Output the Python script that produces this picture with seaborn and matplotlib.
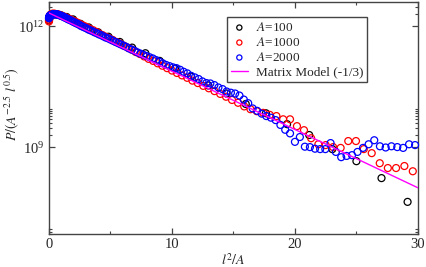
import matplotlib
matplotlib.use('Agg')
import numpy as np
import pandas as pd
import matplotlib.pyplot as plt
import matplotlib.ticker as mticker
import seaborn as sns

# x = l^2/A, y stored as log10 of P/(A^-2.5 l^0.5)

# A = 100
x_a100 = [0, 0.04, 0.16, 0.36, 0.64, 1.0, 1.44, 1.96, 2.56, 3.24, 4.0, 4.84, 5.76, 6.76,
          7.84, 9.0, 10.24, 11.56, 12.96, 14.44, 16.0, 17.64, 19.36, 21.16, 23.04, 25.0,
          27.04, 29.16]
logp_a100 = [12.15, 12.20, 12.26, 12.29, 12.29, 12.27, 12.23, 12.17, 12.06, 11.97, 11.85,
             11.74, 11.61, 11.47, 11.33, 11.14, 10.95, 10.75, 10.53, 10.33, 10.07, 9.84,
             9.57, 9.30, 8.95, 8.65, 8.23, 7.64]

# A = 1000
x_a1000 = [0, 0.004, 0.016, 0.036, 0.064, 0.1, 0.144, 0.196, 0.256, 0.324, 0.4, 0.484,
           0.576, 0.676, 0.784, 0.9, 1.024, 1.156, 1.296, 1.444, 1.6, 1.764, 1.936, 2.116,
           2.304, 2.5, 2.704, 2.916, 3.136, 3.364, 3.6, 3.844, 4.096, 4.356, 4.624, 4.9,
           5.184, 5.476, 5.776, 6.084, 6.4, 6.724, 7.056, 7.396, 7.744, 8.1, 8.464, 8.836,
           9.216, 9.604, 10.0, 10.404, 10.816, 11.236, 11.664, 12.1, 12.544, 12.996,
           13.456, 13.924, 14.4, 14.884, 15.376, 15.876, 16.384, 16.9, 17.424, 17.956,
           18.496, 19.044, 19.6, 20.164, 20.736, 21.316, 21.904, 22.5, 23.104, 23.716,
           24.336, 24.964, 25.6, 26.244, 26.896, 27.556, 28.224, 28.9, 29.584]
logp_a1000 = [12.12, 12.16, 12.20, 12.23, 12.26, 12.28, 12.29, 12.30, 12.31, 12.31, 12.31,
              12.31, 12.30, 12.30, 12.29, 12.28, 12.26, 12.25, 12.23, 12.21, 12.19, 12.17,
              12.14, 12.12, 12.09, 12.06, 12.03, 12.00, 11.97, 11.93, 11.90, 11.86, 11.82,
              11.78, 11.74, 11.70, 11.66, 11.61, 11.57, 11.52, 11.47, 11.42, 11.36, 11.31,
              11.25, 11.19, 11.14, 11.08, 11.02, 10.96, 10.90, 10.84, 10.78, 10.72, 10.65,
              10.59, 10.52, 10.46, 10.39, 10.32, 10.25, 10.17, 10.10, 10.01, 9.94, 9.89,
              9.85, 9.80, 9.77, 9.69, 9.69, 9.52, 9.42, 9.22, 9.07, 9.05, 9.00, 8.98, 9.15,
              9.15, 8.95, 8.85, 8.60, 8.48, 8.48, 8.53, 8.40]

# A = 2000
x_a2000 = [0, 0.002, 0.008, 0.018, 0.032, 0.05, 0.072, 0.098, 0.128, 0.162, 0.2, 0.242,
           0.288, 0.338, 0.392, 0.45, 0.512, 0.578, 0.648, 0.722, 0.8, 0.882, 0.968, 1.058,
           1.152, 1.25, 1.352, 1.458, 1.568, 1.682, 1.8, 1.922, 2.048, 2.178, 2.312, 2.45,
           2.592, 2.738, 2.888, 3.042, 3.2, 3.362, 3.528, 3.698, 3.872, 4.05, 4.232, 4.418,
           4.608, 4.802, 5.0, 5.202, 5.408, 5.618, 5.832, 6.05, 6.272, 6.498, 6.728, 6.962,
           7.2, 7.442, 7.688, 7.938, 8.192, 8.45, 8.712, 8.978, 9.248, 9.522, 9.8, 10.082,
           10.368, 10.658, 10.952, 11.25, 11.552, 11.858, 12.168, 12.482, 12.8, 13.122,
           13.448, 13.778, 14.112, 14.45, 14.792, 15.138, 15.488, 15.842, 16.2, 16.562,
           16.928, 17.298, 17.672, 18.05, 18.432, 18.818, 19.208, 19.602, 20.0, 20.402,
           20.808, 21.218, 21.632, 22.05, 22.472, 22.898, 23.328, 23.762, 24.2, 24.642,
           25.088, 25.538, 25.992, 26.45, 26.912, 27.378, 27.848, 28.322, 28.8, 29.282,
           29.768]
logp_a2000 = [12.20, 12.21, 12.22, 12.23, 12.24, 12.25, 12.26, 12.27, 12.27, 12.28, 12.28,
              12.29, 12.29, 12.30, 12.30, 12.30, 12.30, 12.30, 12.29, 12.29, 12.28, 12.27,
              12.26, 12.25, 12.24, 12.22, 12.21, 12.19, 12.17, 12.16, 12.14, 12.12, 12.10,
              12.08, 12.06, 12.04, 12.01, 11.99, 11.97, 11.95, 11.92, 11.90, 11.88, 11.85,
              11.83, 11.80, 11.78, 11.75, 11.72, 11.70, 11.67, 11.64, 11.61, 11.58, 11.55,
              11.52, 11.49, 11.45, 11.42, 11.39, 11.35, 11.32, 11.29, 11.26, 11.23, 11.20,
              11.16, 11.12, 11.08, 11.04, 11.01, 10.98, 10.96, 10.92, 10.87, 10.83, 10.77,
              10.73, 10.69, 10.63, 10.59, 10.58, 10.54, 10.48, 10.44, 10.38, 10.35, 10.33,
              10.28, 10.18, 10.09, 9.96, 9.90, 9.83, 9.77, 9.73, 9.67, 9.55, 9.43, 9.34,
              9.13, 9.25, 9.01, 9.00, 8.96, 8.95, 8.95, 9.10, 8.88, 8.75, 8.78, 8.80, 8.88,
              8.98, 9.07, 9.17, 9.02, 8.99, 9.02, 9.00, 8.98, 9.07, 9.05]

# matrix model line (straight on log scale)
x_model = [0, 30]
logp_model = [12.33, 7.99]

series = [
    (x_a100, logp_a100, 'black', r'$A$=100'),
    (x_a1000, logp_a1000, 'red', r'$A$=1000'),
    (x_a2000, logp_a2000, 'blue', r'$A$=2000'),
]

sns.set_style('ticks')
plt.rcParams['font.family'] = ['Liberation Serif', 'DejaVu Serif']
plt.rcParams['mathtext.fontset'] = 'stix'
plt.rcParams['font.size'] = 9.5

fig = plt.figure(figsize=(4.26, 2.67), dpi=100)
ax = fig.add_axes([0.115, 0.124, 0.866, 0.8685])

for xs, lp, col, lab in series:
    df = pd.DataFrame({'x': xs, 'p': np.power(10.0, lp)})
    sns.scatterplot(data=df, x='x', y='p', ax=ax, marker='o', s=25,
                    facecolor='none', edgecolor=col, linewidth=0.9,
                    label=lab, clip_on=False, zorder=3)

df_model = pd.DataFrame({'x': x_model, 'p': np.power(10.0, logp_model)})
sns.lineplot(data=df_model, x='x', y='p', ax=ax, color='#ff00ff', linewidth=1.0,
             label='Matrix Model (-1/3)', zorder=4)

ax.set_yscale('log')
ax.set_xlim(0, 30)
ax.set_ylim(7e6, 4e12)

ax.xaxis.set_major_locator(mticker.FixedLocator([0, 10, 20, 30]))
ax.xaxis.set_minor_locator(mticker.FixedLocator([5, 15, 25]))
ax.yaxis.set_major_locator(mticker.FixedLocator([1e6, 1e9, 1e12]))
ax.yaxis.set_major_formatter(mticker.LogFormatterMathtext())
ax.yaxis.set_minor_locator(mticker.FixedLocator(
    [k * 10.0 ** m for m in (6, 9, 12) for k in range(2, 10)]))
ax.yaxis.set_minor_formatter(mticker.NullFormatter())

ax.tick_params(which='both', direction='in', top=True, right=True,
               color='#444444', labelsize=10.5, pad=3)
ax.tick_params(which='major', length=4, width=0.9)
ax.tick_params(which='minor', length=2.5, width=0.8)
for sp in ax.spines.values():
    sp.set_color('#444444')
    sp.set_linewidth(1.0)

ax.set_xlabel(r'$l^2/A$', fontsize=10, labelpad=1)
ax.set_ylabel(r'$P/(A^{-2.5}\ l^{0.5})$', fontsize=10)
ax.yaxis.set_label_coords(-0.077, 0.56)

leg = ax.legend(loc='upper left', bbox_to_anchor=(0.482, 0.935), borderaxespad=0,
                frameon=True, fancybox=False, edgecolor='#444444', framealpha=1,
                fontsize=9.5, markerscale=0.75, handlelength=1.3, handletextpad=0.6,
                borderpad=0.3, labelspacing=0.15)
leg.get_frame().set_linewidth(1.0)

fig.savefig('out.png', dpi=100)
